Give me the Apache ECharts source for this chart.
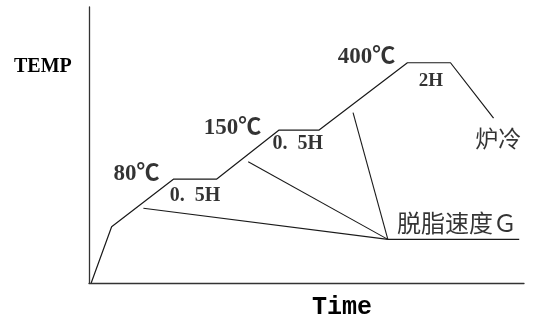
<!DOCTYPE html>
<html>
<head>
<meta charset="utf-8">
<script src="https://cdn.jsdelivr.net/npm/echarts@6/dist/echarts.min.js"></script>
<style>
html,body{margin:0;padding:0;background:#fff;}
#chart{width:536px;height:320px;}
</style>
</head>
<body>
<div id="chart"></div>
<script>
// Firing (debinding) profile: time vs temperature, schematic units 0..100
const profileTime = [0.5, 5.2, 19.4, 29.3, 43.7, 52.9, 73.2, 83.1, 93.0];
const profileTemp = [0, 20.4, 37.6, 37.6, 55.4, 55.4, 79.8, 79.8, 59.7];

// Debinding rate lines converging to point G
const rateStartTime = [12.5, 36.6, 60.7];
const rateStartTemp = [27.1, 43.9, 61.7];
const rateGTime = 68.7;
const rateGTemp = 15.8;
const rateEndTime = 98.9;

// Annotations
const labelTexts = ['80℃', '0.  5H', '150℃', '0.  5H', '400℃', '2H', '炉冷', '脱脂速度Ｇ'];
const labelTime = [10.9, 24.4, 33.0, 48.0, 63.8, 78.6, 94.1, 84.6];
const labelTemp = [39.5, 31.5, 56.2, 50.5, 81.7, 73.2, 52.4, 21.9];

const axisNameY = 'TEMP';
const axisNameX = 'Time';

const chart = echarts.init(document.getElementById('chart'));

const lineColor = '#1a1a1a';
const series = [];

series.push({
  type: 'line',
  data: profileTime.map((t, i) => [t, profileTemp[i]]),
  symbol: 'none',
  lineStyle: { color: lineColor, width: 1.2 },
  silent: true,
  animation: false
});

rateStartTime.forEach((t, i) => {
  series.push({
    type: 'line',
    data: [[t, rateStartTemp[i]], [rateGTime, rateGTemp]],
    symbol: 'none',
    lineStyle: { color: lineColor, width: 1.1 },
    silent: true,
    animation: false
  });
});
series.push({
  type: 'line',
  data: [[rateGTime, rateGTemp], [rateEndTime, rateGTemp]],
  symbol: 'none',
  lineStyle: { color: lineColor, width: 1.1 },
  silent: true,
  animation: false
});

function styleFor(text) {
  if (/[\u4e00-\u9fff]/.test(text)) {
    return { fontFamily: '"Noto Sans CJK SC"', fontSize: text.length > 2 ? 24 : 23, fontWeight: 'normal' };
  }
  if (text.indexOf('℃') >= 0) {
    return { fontFamily: '"Liberation Serif", "Noto Sans CJK SC"', fontSize: 23, fontWeight: 'bold' };
  }
  if (text === '2H') {
    return { fontFamily: '"Liberation Serif"', fontSize: 19, fontWeight: 'bold' };
  }
  return { fontFamily: '"Liberation Serif"', fontSize: 20, fontWeight: 'bold' };
}

series.push({
  type: 'scatter',
  symbolSize: 0,
  silent: true,
  animation: false,
  data: labelTexts.map((txt, i) => {
    const s = styleFor(txt);
    return {
      value: [labelTime[i], labelTemp[i]],
      label: {
        show: true,
        formatter: txt,
        position: 'inside',
        align: 'center',
        verticalAlign: 'middle',
        color: '#000',
        fontFamily: s.fontFamily,
        fontSize: s.fontSize,
        fontWeight: s.fontWeight
      }
    };
  })
});

chart.setOption({
  backgroundColor: '#fff',
  animation: false,
  grid: { left: 89, right: 12, top: 7, bottom: 37, containLabel: false, outerBoundsMode: 'none' },
  xAxis: {
    type: 'value', min: 0, max: 100,
    axisLine: { show: true, lineStyle: { color: '#333', width: 1.3 } },
    axisTick: { show: false }, axisLabel: { show: false }, splitLine: { show: false }
  },
  yAxis: {
    type: 'value', min: 0, max: 100,
    axisLine: { show: true, lineStyle: { color: '#333', width: 1.3 } },
    axisTick: { show: false }, axisLabel: { show: false }, splitLine: { show: false }
  },
  graphic: [
    {
      type: 'text', left: 14, top: 57, silent: true,
      style: { text: axisNameY, fill: '#000', font: 'bold 20px "Liberation Serif"' }
    },
    {
      type: 'text', left: 312, top: 295, silent: true,
      style: { text: axisNameX, fill: '#000', font: 'bold 25px "Liberation Mono"' }
    }
  ],
  series: series
});
</script>
</body>
</html>
